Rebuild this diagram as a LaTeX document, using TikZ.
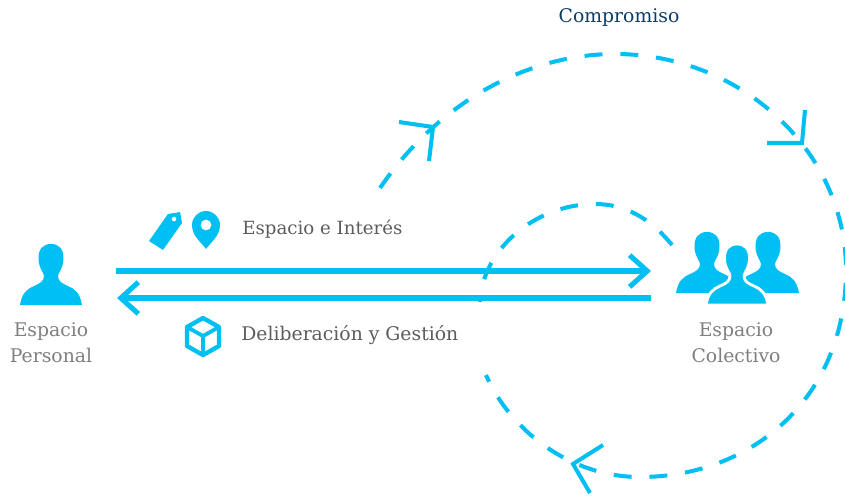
\documentclass[tikz,border=0pt]{standalone}
\usepackage{fontspec}
\setmainfont{DejaVu Serif}
\usetikzlibrary{arrows.meta}
\definecolor{celeste}{HTML}{00BFF3}
\definecolor{grisclaro}{HTML}{7F7F7F}
\definecolor{grisoscuro}{HTML}{5C5C5C}
\definecolor{azuloscuro}{HTML}{0F3D68}
\tikzset{
	flecha/.style={draw=celeste,line width=2.9pt,-{Straight Barb[length=10pt,width=18pt]}},
	punteada/.style={draw=celeste,line width=2.3pt,dash pattern=on 10.2pt off 10.2pt},
	punta/.style={draw=celeste,line width=2.3pt},
	etiqueta/.style={color=grisclaro,font=\fontsize{10.7}{14.7}\selectfont,align=center},
	rotulo/.style={color=grisoscuro,font=\fontsize{10.7}{12}\selectfont,inner sep=0pt},
	persona/.pic={
		\path [pic actions] (-31,0) .. controls (-29,-12) and (-24,-16) .. (-17,-19)
			.. controls (-11,-21.5) and (-7,-24) .. (-7,-29)
			.. controls (-7,-32) and (-12.5,-37) .. (-12.5,-47)
			.. controls (-12.5,-56) and (-8,-61) .. (0,-61)
			.. controls (8,-61) and (12.5,-56) .. (12.5,-47)
			.. controls (12.5,-37) and (7,-32) .. (7,-29)
			.. controls (7,-24) and (11,-21.5) .. (17,-19)
			.. controls (24,-16) and (29,-12) .. (31,0) -- cycle;
	}
}
\begin{document}
\begin{tikzpicture}[x=0.02cm,y=-0.02cm]
	\useasboundingbox (0,0) rectangle (845,495);
	%personas
		\pic [fill=celeste] (personal) at (51,305) {persona};
		\pic [fill=celeste] (colectivoA) at (707,293) {persona};
		\pic [fill=celeste] (colectivoB) at (768,293) {persona};
		\pic [fill=celeste,draw=white,line width=1.6pt] (colectivoC) at (737,305) {persona};
		\node [etiqueta] (espacioPersonal) at (51,343) {Espacio\\Personal};
		\node [etiqueta] (espacioColectivo) at (736,343) {Espacio\\Colectivo};
	% flechas
		\coordinate (idaA) at (116,271);
		\coordinate (idaB) at (651,271);
		\coordinate (vueltaA) at (651,298);
		\coordinate (vueltaB) at (117,298);
		\draw [flecha] (idaA) -- (idaB);
		\draw [flecha] (vueltaA) -- (vueltaB);
	% arcos
		\coordinate (granA) at (380,188);
		\coordinate (granB) at (486,375);
		\draw [punteada] (granA) .. controls (440,100) and (530,54) .. (615,54)
			.. controls (740,54) and (846,150) .. (846,270)
			.. controls (846,400) and (750,477) .. (640,477)
			.. controls (570,477) and (510,430) .. (granB);
		\coordinate (chicoA) at (672,245);
		\coordinate (chicoB) at (480,302);
		\draw [punteada] (chicoA) .. controls (650,218) and (625,204) .. (595,204)
			.. controls (535,204) and (482,250) .. (chicoB);
	% puntas
		\draw [punta] (399,122) -- (433,127) -- (429,161);
		\draw [punta] (805,110) -- (802,143) -- (767,143);
		\draw [punta] (603,445) -- (573,464) -- (590,493);
	% etiqueta e iconos
		\node [color=azuloscuro,font=\fontsize{10.7}{12}\selectfont] (compromiso) at (619,17) {Compromiso};
		\node [rotulo,anchor=west,font=\fontsize{10.35}{12}\selectfont] (interes) at (242,229) {Espacio e Interés};
		\node [rotulo,anchor=west] (deliberacion) at (241,335) {Deliberación y Gestión};
		%etiqueta
			\fill [celeste,even odd rule] (168,214) -- (180,212) -- (182,223) -- (163,250) -- (149,241) -- cycle (174,219) circle (2.5);
		%lugar
			\fill [celeste,even odd rule] (206,249) .. controls (201,242) and (192,236) .. (192,225) arc (180:360:14) .. controls (220,236) and (211,242) .. (206,249) -- cycle (206,225) circle (5.5);
		%caja
			\draw [celeste,line width=2.5pt,line join=round] (203,318) -- (219,327) -- (219,346) -- (203,355) -- (187,346) -- (187,327) -- cycle;
			\draw [celeste,line width=2.2pt] (187,327) -- (203,336) -- (219,327) (203,336) -- (203,355);
\end{tikzpicture}
\end{document}
